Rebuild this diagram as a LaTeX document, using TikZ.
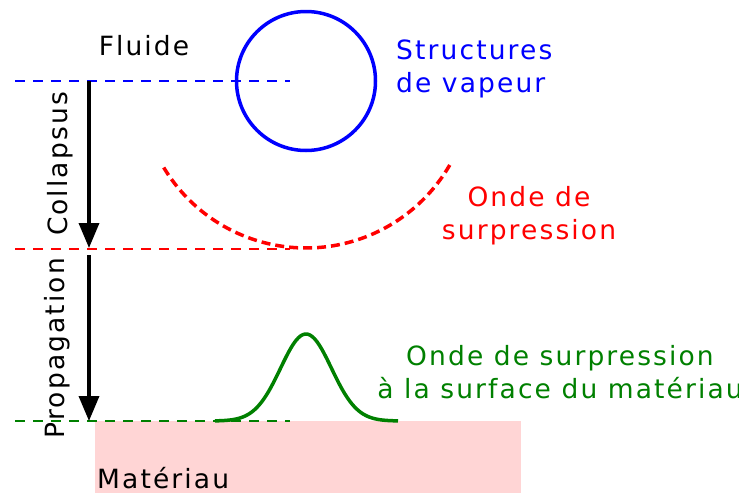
\documentclass[tikz,border=0pt]{standalone}
\usepackage{fontspec}
\setmainfont{DejaVu Sans}[LetterSpace=8]
\usetikzlibrary{arrows.meta}
\definecolor{matpink}{RGB}{255,213,213}
\definecolor{wgreen}{RGB}{0,128,0}
\tikzset{
  lbl/.style={font=\fontsize{26.5}{33}\selectfont, inner sep=0pt, align=center},
  level/.style={line width=1.3pt, dash pattern=on 10pt off 8pt},
  arr/.style={line width=3.5pt, -{Triangle[length=25pt,width=20pt]}},
}
\begin{document}
\begin{tikzpicture}[x=1pt,y=-1pt]
\useasboundingbox (0,0) rectangle (739,493);
% material block
\fill[matpink] (95,421) rectangle (521,493);
% level lines
\coordinate (b1) at (15,81); \coordinate (b2) at (290,81);
\coordinate (r1) at (15,249); \coordinate (r2) at (290,249);
\coordinate (g1) at (15,421); \coordinate (g2) at (290,421);
\draw[level, blue] (b1) -- (b2);
\draw[level, red] (r1) -- (r2);
\draw[level, wgreen] (g1) -- (g2);
% vapour bubble
\node[draw=blue, line width=3.5pt, circle, minimum size=139pt, inner sep=0pt] (bubble) at (306,81) {};
% pressure wave arc
\draw[red, line width=3.5pt, dash pattern=on 9pt off 5pt, domain=211:330, samples=90, smooth] plot ({306+166*cos(\x)}, {82-166*sin(\x)});
% surface pulse
\draw[wgreen, line width=3.5pt, domain=215:398, samples=80, smooth] plot (\x, {421-87*exp(-((\x-306)/36)^2)});
% arrows
\coordinate (a1s) at (89,81); \coordinate (a1e) at (89,248);
\coordinate (a2s) at (89,255); \coordinate (a2e) at (89,421);
\draw[arr] (a1s) -- (a1e);
\draw[arr] (a2s) -- (a2e);
% labels
\node[lbl] (fluide) at (144,46) {Fluide};
\node[lbl, text=blue, align=left, anchor=west] (vap) at (396,69) {Structures\\de vapeur};
\node[lbl, text=red] (onde) at (529,216) {Onde de\\surpression};
\node[lbl, text=wgreen] (surf) at (560,372) {Onde de surpression\\à la surface du matériau};
\node[lbl, anchor=west] (mat) at (97,478) {Matériau};
\node[lbl, rotate=90] (coll) at (60,164) {Collapsus};
\node[lbl, rotate=90] (prop) at (57,348) {Propagation};
\end{tikzpicture}
\end{document}
